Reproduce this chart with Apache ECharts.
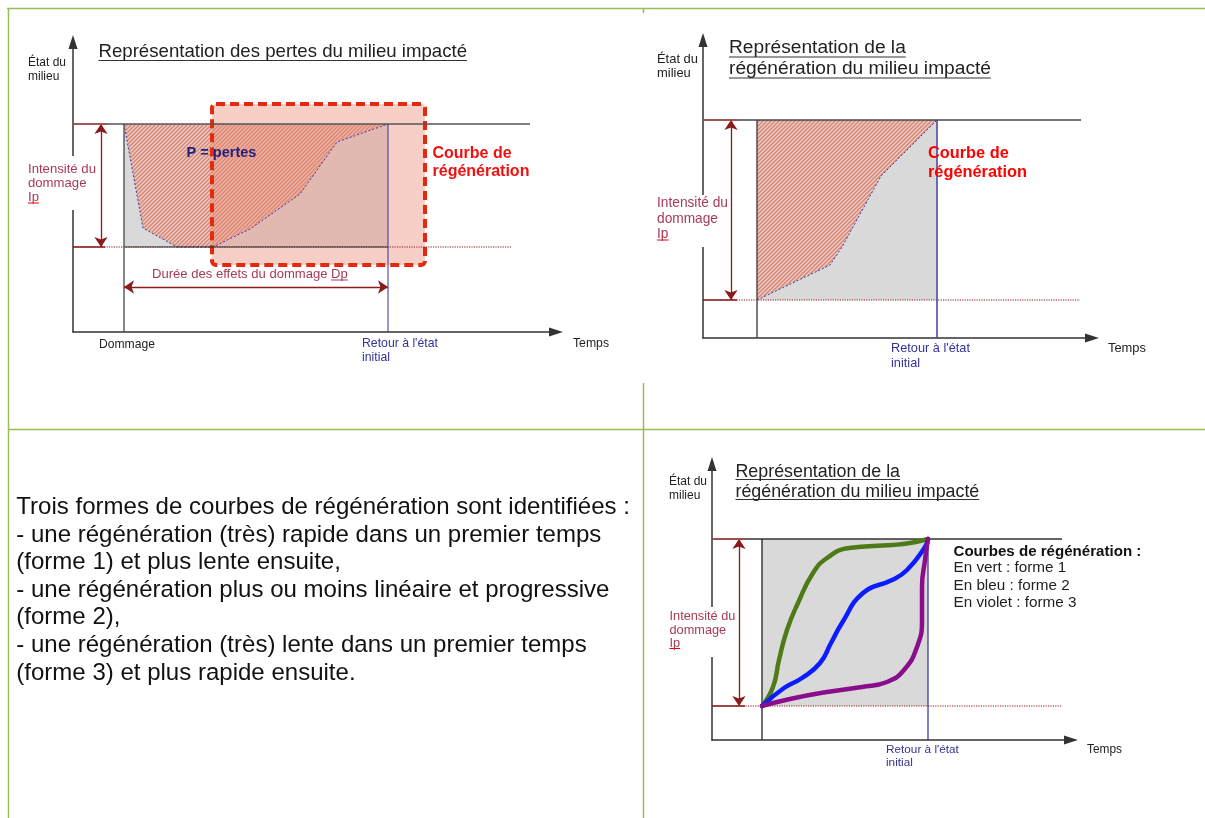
<!DOCTYPE html>
<html><head><meta charset="utf-8">
<script src="https://cdn.jsdelivr.net/npm/echarts@6/dist/echarts.min.js"></script>
<style>html,body{margin:0;padding:0;background:#fff}#c{width:1205px;height:818px}</style>
</head><body><div id="c"></div><script>
// ================= DATA (diagram units, measured from each panel's axis origin) =================
// Panel 1 – losses of the impacted environment
const p1LossTime  = [51, 70, 104, 140, 177, 227, 264, 315];
const p1LossState = [208, 104, 85, 85, 103, 138, 190, 208];
const p1InitialState = 208, p1DamagedState = 85;
const p1DamageTime = 51, p1RecoveryTime = 315;
const p1RefEnd = 457, p1DottedEnd = 439;
const p1BoxTime = [139, 352], p1BoxState = [67, 228];
const p1IpTime = 28, p1DpState = 45;

// Panel 2 – regeneration
const p2RegenTime  = [54, 127, 139, 178, 234];
const p2RegenState = [38, 73, 91, 162, 218];
const p2InitialState = 218, p2DamagedState = 38;
const p2DamageTime = 54, p2RecoveryTime = 234;
const p2RefEnd = 378, p2DottedEnd = 377;
const p2IpTime = 28;

// Panel 3 – three forms of regeneration
const p3InitialState = 201, p3DamagedState = 34;
const p3DamageTime = 50, p3RecoveryTime = 216;
const p3RefEnd = 350, p3DottedEnd = 350;
const p3IpTime = 27;
const form1Time  = [50, 61, 67, 75, 86, 101, 115, 137, 180, 198, 216];
const form1State = [34, 53, 80, 110, 137, 167, 182, 192, 195, 197, 201];
const form2Time  = [50, 72, 90, 108, 119, 130, 151, 180, 195, 213, 216];
const form2State = [34, 52, 62, 77, 97, 117, 147, 160, 170, 193, 201];
const form3Time  = [50, 78, 115, 150, 175, 192, 205, 210, 210, 213, 216];
const form3State = [34, 41, 48, 53, 58, 70, 93, 120, 153, 180, 201];

// Texts
const p1Title = 'Représentation des pertes du milieu impacté';
const regenTitle = ['Représentation de la', 'régénération du milieu impacté'];
const yLabel = ['État du', 'milieu'];
const ipLabel = ['Intensité du', 'dommage', 'Ip'];
const xLabel = 'Temps';
const returnLabel = ['Retour à l\'état', 'initial'];
const curveLabel = ['Courbe de', 'régénération'];
const legendLines = ['Courbes de régénération :', 'En vert : forme 1', 'En bleu : forme 2', 'En violet : forme 3'];
const paragraph = [
  'Trois formes de courbes de régénération sont identifiées :',
  '- une régénération (très) rapide dans un premier temps',
  '(forme 1) et plus lente ensuite,',
  '- une régénération plus ou moins linéaire et progressive',
  '(forme 2),',
  '- une régénération (très) lente dans un premier temps',
  '(forme 3) et plus rapide ensuite.'
];

// ================= RENDERING =================
const zip = (a, b) => a.map((v, i) => [v, b[i]]);
const FAM = '"Liberation Sans", Arial, sans-serif';
const mctx = document.createElement('canvas').getContext('2d');
function sizeFor(text, w, weight) { mctx.font = weight + ' 100px ' + FAM; return 100 * w / mctx.measureText(text).width; }
function textW(text, size, weight) { mctx.font = weight + ' ' + size + 'px ' + FAM; return mctx.measureText(text).width; }

function hatchCanvas() {
  const c = document.createElement('canvas'); c.width = c.height = 4;
  const g = c.getContext('2d');
  g.fillStyle = '#ddd3d1'; g.fillRect(0, 0, 4, 4);
  g.strokeStyle = '#e5806b'; g.lineWidth = 1.5;
  g.beginPath();
  g.moveTo(-1, 5); g.lineTo(5, -1);
  g.moveTo(-1, 1); g.lineTo(1, -1);
  g.moveTo(3, 5); g.lineTo(5, 3);
  g.stroke();
  return c;
}
const HATCH = { image: hatchCanvas(), repeat: 'repeat' };

// grid rectangles end half an arrow-head before the arrow tips
const grids = [
  { left: 73, top: 42, width: 483, height: 290 },
  { left: 703, top: 40, width: 389, height: 298 },
  { left: 712, top: 464, width: 359, height: 276 }
];
const axisLine = { show: true, onZero: false, symbol: ['none', 'triangle'], symbolSize: [9, 14], lineStyle: { color: '#333', width: 1.5 } };
const hiddenParts = { axisTick: { show: false }, axisLabel: { show: false }, splitLine: { show: false } };

function seg(gi, pts, color, width, type, z) {
  return { type: 'line', xAxisIndex: gi, yAxisIndex: gi, data: pts, symbol: 'none', silent: true, z: z || 3,
    lineStyle: { color, width, type: type || 'solid' }, animation: false };
}
function poly(gi, pts, style, z) {
  return { type: 'custom', xAxisIndex: gi, yAxisIndex: gi, data: [0], silent: true, z: z || 1, animation: false,
    renderItem: (p, api) => ({ type: 'polygon', shape: { points: pts.map(v => api.coord(v)) }, style }) };
}
function arrow(gi, from, to, color) {
  return { type: 'lines', coordinateSystem: 'cartesian2d', xAxisIndex: gi, yAxisIndex: gi, silent: true, z: 4, animation: false,
    symbol: ['arrow', 'arrow'], symbolSize: 10, lineStyle: { color, width: 1.3, opacity: 1, curveness: 0 },
    data: [{ coords: [from, to] }] };
}
function curve(gi, t, s, color) {
  return { type: 'line', xAxisIndex: gi, yAxisIndex: gi, data: zip(t, s), symbol: 'none', smooth: 0.5, silent: true, z: 6,
    lineStyle: { color, width: 4.5, cap: 'round', join: 'round' }, animation: false };
}
const DARKRED = '#8b1a1a', NAVY = '#333399';

const series = [
  // ---- panel 1 ----
  poly(0, [...zip(p1LossTime, p1LossState), [p1RecoveryTime, p1DamagedState], [p1DamageTime, p1DamagedState]], { fill: '#d9d9d9' }, 1),
  poly(0, zip(p1LossTime, p1LossState), { fill: HATCH }, 1),
  { type: 'custom', xAxisIndex: 0, yAxisIndex: 0, data: [0], silent: true, z: 2, animation: false,
    renderItem: (p, api) => {
      const a = api.coord([p1BoxTime[0], p1BoxState[1]]), b = api.coord([p1BoxTime[1], p1BoxState[0]]);
      return { type: 'rect', shape: { x: a[0], y: a[1], width: b[0] - a[0], height: b[1] - a[1], r: 4 },
        style: { fill: 'rgba(235,140,120,0.42)', stroke: '#e42a0e', lineWidth: 4, lineDash: [9, 5] } };
    } },
  seg(0, zip(p1LossTime, p1LossState), '#3a3aa8', 1, [2, 2], 3),
  seg(0, [[0, p1InitialState], [p1RefEnd, p1InitialState]], '#555', 1.4),
  seg(0, [[0, p1InitialState], [p1IpTime + 7, p1InitialState]], '#b04a4a', 1.5, 'solid', 4),
  seg(0, [[0, p1DamagedState], [p1DottedEnd, p1DamagedState]], DARKRED, 1.2, 'dotted'),
  seg(0, [[0, p1DamagedState], [p1IpTime + 4, p1DamagedState]], DARKRED, 1.3),
  seg(0, [[p1DamageTime, p1DamagedState], [p1RecoveryTime, p1DamagedState]], '#333', 1),
  seg(0, [[p1DamageTime, p1InitialState], [p1DamageTime, 0]], '#555', 1.4),
  seg(0, [[p1RecoveryTime, p1InitialState], [p1RecoveryTime, 0]], NAVY, 1),
  arrow(0, [p1IpTime, p1InitialState], [p1IpTime, p1DamagedState], DARKRED),
  arrow(0, [p1DamageTime, p1DpState], [p1RecoveryTime, p1DpState], DARKRED),
  // ---- panel 2 ----
  poly(1, [...zip(p2RegenTime, p2RegenState), [p2RecoveryTime, p2DamagedState]], { fill: '#d9d9d9' }, 1),
  poly(1, [...zip(p2RegenTime, p2RegenState), [p2DamageTime, p2InitialState]], { fill: HATCH }, 1),
  seg(1, zip(p2RegenTime, p2RegenState), '#3a3aa8', 1, [2, 2], 3),
  seg(1, [[0, p2InitialState], [p2RefEnd, p2InitialState]], '#444', 1.4),
  seg(1, [[0, p2InitialState], [p2IpTime + 6, p2InitialState]], '#b04a4a', 1.5, 'solid', 4),
  seg(1, [[0, p2DamagedState], [p2DottedEnd, p2DamagedState]], DARKRED, 1.2, 'dotted'),
  seg(1, [[0, p2DamagedState], [p2IpTime + 6, p2DamagedState]], DARKRED, 1.3),
  seg(1, [[p2DamageTime, p2InitialState], [p2DamageTime, 0]], '#444', 1.4),
  seg(1, [[p2RecoveryTime, p2InitialState], [p2RecoveryTime, 0]], '#4a4aa8', 1.6),
  arrow(1, [p2IpTime, p2InitialState], [p2IpTime, p2DamagedState], DARKRED),
  // ---- panel 3 ----
  poly(2, [[p3DamageTime, p3DamagedState], [p3RecoveryTime, p3DamagedState], [p3RecoveryTime, p3InitialState], [p3DamageTime, p3InitialState]], { fill: '#d9d9d9' }, 1),
  seg(2, [[0, p3InitialState], [p3RefEnd, p3InitialState]], '#333', 1.3),
  seg(2, [[0, p3InitialState], [p3IpTime + 6, p3InitialState]], '#b04a4a', 1.5, 'solid', 4),
  seg(2, [[0, p3DamagedState], [p3DottedEnd, p3DamagedState]], DARKRED, 1.2, 'dotted'),
  seg(2, [[0, p3DamagedState], [p3IpTime + 6, p3DamagedState]], DARKRED, 1.3),
  seg(2, [[p3DamageTime, p3InitialState], [p3DamageTime, 0]], '#222', 1.3),
  seg(2, [[p3RecoveryTime, p3InitialState], [p3RecoveryTime, 0]], '#2a2aa8', 1.2),
  arrow(2, [p3IpTime, p3InitialState], [p3IpTime, p3DamagedState], DARKRED),
  curve(2, form1Time, form1State, '#4e7a17'),
  curve(2, form2Time, form2State, '#0b1cff'),
  curve(2, form3Time, form3State, '#8a0d8c')
];

// ---------- graphic: table borders and texts ----------
const G = [];
const GREEN = '#9bbb59';
function gline(x1, y1, x2, y2, color, lw, z) { G.push({ type: 'line', z: z || 100, silent: true, shape: { x1, y1, x2, y2 }, style: { stroke: color, lineWidth: lw || 1 } }); }
gline(7, 8.5, 1205, 8.5, GREEN, 1.5);
gline(8.5, 8, 8.5, 818, GREEN, 1.5);
gline(8, 429.5, 1205, 429.5, GREEN, 1.5);
gline(643.5, 383, 643.5, 818, GREEN, 1.5);
gline(643.5, 8, 643.5, 13, GREEN, 1.5);

function block(x, ys, lines, fitIdx, w, color, weight) {
  weight = weight || 'normal';
  const size = sizeFor(lines[fitIdx], w, weight);
  lines.forEach((t, i) => G.push({ type: 'text', x, y: ys[i], z: 101, silent: true,
    style: { text: t, fontSize: size, fontFamily: FAM, fontWeight: weight, fill: color, verticalAlign: 'middle', align: 'left' } }));
  return size;
}
function whiteGap(x, y0, y1) { G.push({ type: 'rect', z: 99, silent: true, shape: { x: x - 3, y: y0, width: 6, height: y1 - y0 }, style: { fill: '#fff' } }); }
const IPCOL = '#a83a56';

// panel 1
let s = block(98.5, [52], [p1Title], 0, 369, '#222');
gline(98.5, 60.5, 98.5 + textW(p1Title, s, 'normal'), 60.5, '#333', 1);
block(28, [63, 77], yLabel, 0, 38, '#222');
whiteGap(73, 156, 210);
s = block(28, [169.5, 183.5, 197], ipLabel, 0, 68, IPCOL);
gline(28, 203, 28 + textW('Ip', s, 'normal'), 203, '#e00', 1);
block(99, [345], ['Dommage'], 0, 56, '#222');
block(362, [344, 358], returnLabel, 0, 76, NAVY);
block(573, [344], [xLabel], 0, 36, '#222');
const dur = 'Durée des effets du dommage Dp';
s = block(152, [274], [dur], 0, 196, IPCOL);
const pre = textW('Durée des effets du dommage ', s, 'normal');
gline(152 + pre, 280, 152 + pre + textW('Dp', s, 'normal'), 280, IPCOL, 1);
block(186.5, [153], ['P = pertes'], 0, 70, '#22227a', 'bold');
block(432.5, [154, 172], curveLabel, 1, 97, '#f01010', 'bold');

// panel 2
block(657, [59, 73], yLabel, 0, 41, '#222');
s = block(729, [48, 69], regenTitle, 1, 262, '#222');
gline(729, 57, 729 + textW(regenTitle[0], s, 'normal'), 57, '#333', 1);
gline(729, 78, 729 + textW(regenTitle[1], s, 'normal'), 78, '#333', 1);
whiteGap(703, 195, 247);
s = block(657, [203, 219, 234], ipLabel, 0, 71, IPCOL);
gline(657, 240, 657 + textW('Ip', s, 'normal'), 240, '#e00', 1);
block(928, [153, 172], curveLabel, 1, 99, '#ff0000', 'bold');
block(891, [348, 363], returnLabel, 0, 79, NAVY);
block(1108, [348], [xLabel], 0, 38, '#222');

// panel 3
block(669, [482, 496], yLabel, 0, 38, '#222');
s = block(735.5, [472, 492], regenTitle, 1, 244, '#222');
gline(735.5, 479.5, 735.5 + textW(regenTitle[0], s, 'normal'), 479.5, '#333', 1);
gline(735.5, 499.5, 735.5 + textW(regenTitle[1], s, 'normal'), 499.5, '#333', 1);
whiteGap(712, 607, 657);
s = block(669.5, [616, 630, 643], ipLabel, 0, 66, IPCOL);
gline(669.5, 648.5, 669.5 + textW('Ip', s, 'normal'), 648.5, '#e00', 1);
block(953.5, [552], [legendLines[0]], 0, 188, '#111', 'bold');
block(953.5, [568, 586, 603], legendLines.slice(1), 2, 123, '#222');
block(886, [750, 763], returnLabel, 0, 73, NAVY);
block(1087, [750], [xLabel], 0, 35, '#222');

// bottom-left paragraph
block(16.3, [507, 535, 562, 590, 617, 645, 673], paragraph, 0, 614, '#111');

const chart = echarts.init(document.getElementById('c'), null, { renderer: 'canvas' });
chart.setOption({
  animation: false,
  backgroundColor: '#fff',
  grid: grids.map(g => Object.assign({ containLabel: false, show: false }, g)),
  xAxis: grids.map((g, i) => Object.assign({ type: 'value', gridIndex: i, min: 0, max: g.width, axisLine }, hiddenParts)),
  yAxis: grids.map((g, i) => Object.assign({ type: 'value', gridIndex: i, min: 0, max: g.height, axisLine }, hiddenParts)),
  series,
  graphic: { elements: G }
});
</script></body></html>
